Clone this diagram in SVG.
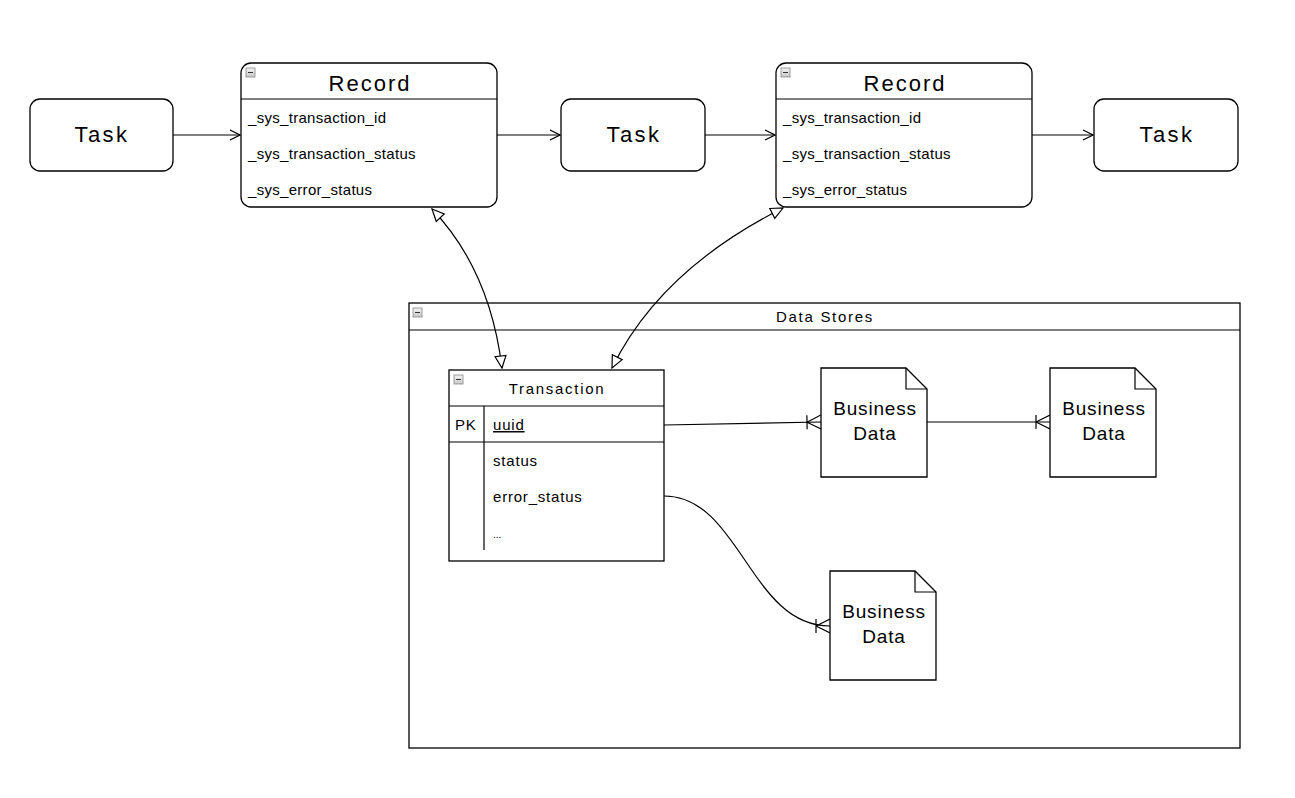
<svg xmlns="http://www.w3.org/2000/svg" width="1295" height="798" viewBox="0 0 1295 798">
<defs>
<style>
.box{fill:#fff;stroke:#000;stroke-width:1.3}
.ln{fill:none;stroke:#000;stroke-width:1.2}
.t{font-family:"Liberation Sans",Arial,sans-serif;fill:#000}
.task{font-size:22px;text-anchor:middle;letter-spacing:2.5px}
.hdr{font-size:22px;text-anchor:middle;letter-spacing:2px}
.fld{font-size:15px;letter-spacing:0.3px}
.bd{font-size:19px;text-anchor:middle;letter-spacing:0.8px}
.sm{font-size:15px;letter-spacing:0.8px}
.ttl{font-size:15px;text-anchor:middle;letter-spacing:1.7px}
.mi{fill:url(#mg);stroke:#888;stroke-width:0.8}
.mb{stroke:#333;stroke-width:1}
</style>
<linearGradient id="mg" x1="0" y1="0" x2="0" y2="1"><stop offset="0" stop-color="#f4f4f4"/><stop offset="1" stop-color="#c8c8c8"/></linearGradient>
<marker id="arr" viewBox="0 0 12 12" refX="11" refY="6" markerWidth="12" markerHeight="12" markerUnits="userSpaceOnUse" orient="auto-start-reverse">
<path d="M1,1 L11,6 L1,11" fill="none" stroke="#000" stroke-width="1.2"/>
</marker>
<marker id="blk" viewBox="0 0 14 14" refX="13" refY="7" markerWidth="14" markerHeight="14" markerUnits="userSpaceOnUse" orient="auto-start-reverse">
<path d="M1,1.5 L13,7 L1,12.5 Z" fill="#fff" stroke="#000" stroke-width="1.2"/>
</marker>
<marker id="crow" viewBox="0 0 16 16" refX="16" refY="8" markerWidth="16" markerHeight="16" markerUnits="userSpaceOnUse" orient="auto">
<path d="M2,8 L16,1 M2,8 L16,15 M2,1 L2,15" fill="none" stroke="#000" stroke-width="1.2"/>
</marker>
</defs>
<rect width="1295" height="798" fill="#fff"/>

<g id="datastores">
<rect class="box" x="409" y="303" width="831" height="445"/>
<line class="ln" x1="409" y1="330" x2="1240" y2="330"/>
<rect class="mi" x="413" y="308" width="9" height="9"/><line class="mb" x1="415" y1="312.5" x2="420" y2="312.5"/>
<text class="t ttl" x="825" y="322">Data Stores</text>
</g>

<g id="connectors">
<line class="ln" x1="173" y1="135" x2="240" y2="135" marker-end="url(#arr)"/>
<line class="ln" x1="497" y1="135" x2="560" y2="135" marker-end="url(#arr)"/>
<line class="ln" x1="705" y1="135" x2="775" y2="135" marker-end="url(#arr)"/>
<line class="ln" x1="1032" y1="135" x2="1093" y2="135" marker-end="url(#arr)"/>
<path class="ln" d="M432,209 Q490,270 502,368" marker-start="url(#blk)" marker-end="url(#blk)"/>
<path class="ln" d="M783,208 Q660,270 612,368" marker-start="url(#blk)" marker-end="url(#blk)"/>
<path class="ln" d="M664,425 L821,422" marker-end="url(#crow)"/>
<path class="ln" d="M927,422 L1050,422" marker-end="url(#crow)"/>
<path class="ln" d="M664,496 C740,496 750,626 830,626" marker-end="url(#crow)"/>
</g>

<g id="task1">
<rect class="box" x="30" y="99" width="143" height="72" rx="10"/>
<text class="t task" x="102" y="142">Task</text>
</g>
<g id="task2">
<rect class="box" x="561" y="99" width="144" height="72" rx="10"/>
<text class="t task" x="634" y="142">Task</text>
</g>
<g id="task3">
<rect class="box" x="1094" y="99" width="144" height="72" rx="10"/>
<text class="t task" x="1167" y="142">Task</text>
</g>

<g id="record1">
<rect class="box" x="241" y="63" width="256" height="144" rx="10"/>
<line class="ln" x1="241" y1="99" x2="497" y2="99"/>
<rect class="mi" x="246" y="68" width="9" height="9"/><line class="mb" x1="248" y1="72.5" x2="253" y2="72.5"/>
<text class="t hdr" x="370" y="91">Record</text>
<text class="t fld" x="248" y="123">_sys_transaction_id</text>
<text class="t fld" x="248" y="159">_sys_transaction_status</text>
<text class="t fld" x="248" y="195">_sys_error_status</text>
</g>
<g id="record2">
<rect class="box" x="776" y="63" width="256" height="144" rx="10"/>
<line class="ln" x1="776" y1="99" x2="1032" y2="99"/>
<rect class="mi" x="781" y="68" width="9" height="9"/><line class="mb" x1="783" y1="72.5" x2="788" y2="72.5"/>
<text class="t hdr" x="905" y="91">Record</text>
<text class="t fld" x="783" y="123">_sys_transaction_id</text>
<text class="t fld" x="783" y="159">_sys_transaction_status</text>
<text class="t fld" x="783" y="195">_sys_error_status</text>
</g>

<g id="transaction">
<rect class="box" x="449" y="370" width="215" height="191"/>
<line class="ln" x1="449" y1="406" x2="664" y2="406"/>
<line class="ln" x1="449" y1="442" x2="664" y2="442"/>
<line class="ln" x1="484" y1="406" x2="484" y2="550"/>
<rect class="mi" x="454" y="375" width="9" height="9"/><line class="mb" x1="456" y1="379.5" x2="461" y2="379.5"/>
<text class="t ttl" x="557" y="394">Transaction</text>
<text class="t sm" x="455" y="430">PK</text>
<text class="t sm" x="493" y="430" text-decoration="underline">uuid</text>
<text class="t sm" x="493" y="466">status</text>
<text class="t sm" x="493" y="502">error_status</text>
<text class="t" x="493" y="538" font-size="10">...</text>
</g>

<g id="bd1">
<path class="box" d="M821,368 H906 L927,389 V477 H821 Z"/>
<path class="ln" d="M906,368 V389 H927"/>
<text class="t bd" x="875" y="415">Business</text>
<text class="t bd" x="875" y="440">Data</text>
</g>
<g id="bd2">
<path class="box" d="M1050,368 H1135 L1156,389 V477 H1050 Z"/>
<path class="ln" d="M1135,368 V389 H1156"/>
<text class="t bd" x="1104" y="415">Business</text>
<text class="t bd" x="1104" y="440">Data</text>
</g>
<g id="bd3">
<path class="box" d="M830,571 H915 L936,592 V680 H830 Z"/>
<path class="ln" d="M915,571 V592 H936"/>
<text class="t bd" x="884" y="618">Business</text>
<text class="t bd" x="884" y="643">Data</text>
</g>
</svg>
